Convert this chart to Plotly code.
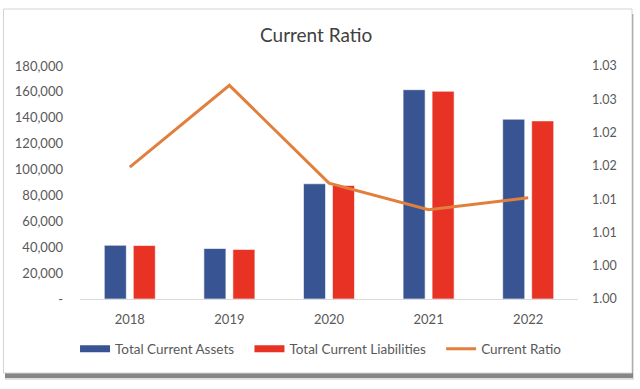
import plotly.graph_objects as go

# ---- data ----
years = ["2018", "2019", "2020", "2021", "2022"]
total_current_assets = [41500, 39000, 89000, 161700, 138900]
total_current_liabilities = [41300, 38300, 87700, 160500, 137600]
current_ratio = [1.0198, 1.0321, 1.0174, 1.0134, 1.0152]

left_tickvals = [0, 20000, 40000, 60000, 80000, 100000, 120000, 140000, 160000, 180000]
left_ticktext = ["-", "20,000", "40,000", "60,000", "80,000", "100,000", "120,000", "140,000", "160,000", "180,000"]
right_tickvals = [1.000, 1.005, 1.010, 1.015, 1.020, 1.025, 1.030, 1.035]
right_ticktext = ["1.00", "1.00", "1.01", "1.01", "1.02", "1.02", "1.03", "1.03"]

BLUE = "#385493"
RED = "#E83324"
ORANGE = "#E0803C"
GREY = "#595959"
FONT = "Lato"

# plot area in pixels (for converting decorative frame positions)
L, R, T, B = 80, 578, 66, 299
W_, H_ = 640, 389


def px(x):
    return (x - L) / (R - L)


def py(y):
    return (B - y) / (B - T)


fig = go.Figure()

fig.add_trace(go.Bar(
    x=years, y=total_current_assets, name="Total Current Assets",
    marker=dict(color=BLUE, line=dict(color="rgba(255,255,255,0.6)", width=1)),
    showlegend=False,
))
fig.add_trace(go.Bar(
    x=years, y=total_current_liabilities, name="Total Current Liabilities",
    marker=dict(color=RED, line=dict(color="rgba(255,255,255,0.6)", width=1)),
    showlegend=False,
))
fig.add_trace(go.Scatter(
    x=years, y=current_ratio, name="Current Ratio", yaxis="y2",
    mode="lines", line=dict(color=ORANGE, width=3), showlegend=False,
))

# legend entries (wide swatches like the original)
nb = "\u00a0"
fig.add_trace(go.Scatter(x=[None], y=[None], mode="lines", name="Total Current Assets" + nb * 3,
                         line=dict(color=BLUE, width=7)))
fig.add_trace(go.Scatter(x=[None], y=[None], mode="lines", name="Total Current Liabilities" + nb * 3,
                         line=dict(color=RED, width=7)))
fig.add_trace(go.Scatter(x=[None], y=[None], mode="lines", name="Current Ratio",
                         line=dict(color=ORANGE, width=3)))

shapes = [
    # shadow
    dict(type="rect", xref="paper", yref="paper", layer="below",
         x0=px(5), x1=px(634), y0=py(14), y1=py(380),
         fillcolor="rgba(0,0,0,0.12)", line=dict(width=0)),
    dict(type="rect", xref="paper", yref="paper", layer="below",
         x0=px(5), x1=px(633), y0=py(14), y1=py(378),
         fillcolor="rgba(0,0,0,0.40)", line=dict(width=0)),
    # card
    dict(type="rect", xref="paper", yref="paper", layer="below",
         x0=px(3.5), x1=px(632), y0=py(9), y1=py(373),
         fillcolor="white", line=dict(color="#D4D4D4", width=1)),
]

fig.update_layout(
    width=W_, height=H_,
    margin=dict(l=L, r=W_ - R, t=T, b=H_ - B, pad=0),
    paper_bgcolor="white", plot_bgcolor="rgba(0,0,0,0)",
    font=dict(family=FONT, color=GREY, size=12),
    title=dict(text="Current Ratio", x=0.494, xanchor="center", y=1 - 35 / H_, yanchor="middle",
               font=dict(family=FONT, size=19, color="#404040")),
    barmode="group", bargap=0.418, bargroupgap=0.24,
    showlegend=True,
    legend=dict(orientation="h", x=0.484, xanchor="center", y=py(349), yanchor="middle",
                font=dict(family=FONT, size=13.5, color=GREY), bgcolor="rgba(0,0,0,0)",
                itemwidth=30, tracegroupgap=0),
    xaxis=dict(showgrid=False, showline=True, linecolor="#D9D9D9", linewidth=1,
               ticks="", ticklabelstandoff=8, tickfont=dict(size=13, color=GREY), fixedrange=True),
    yaxis=dict(range=[0, 180000], tickvals=left_tickvals, ticktext=left_ticktext,
               showgrid=False, zeroline=False, showline=False, ticks="",
               ticklabelstandoff=16, tickfont=dict(size=13, color=GREY)),
    yaxis2=dict(range=[1.0, 1.035], tickvals=right_tickvals, ticktext=right_ticktext,
                overlaying="y", side="right", showgrid=False, zeroline=False, showline=False,
                ticks="", ticklabelstandoff=13, tickfont=dict(size=12.5, color=GREY)),
    shapes=shapes,
)

fig.write_html("out.html", config={"displayModeBar": False},
               post_script="document.body.style.margin='0';document.body.style.overflow='hidden';")
